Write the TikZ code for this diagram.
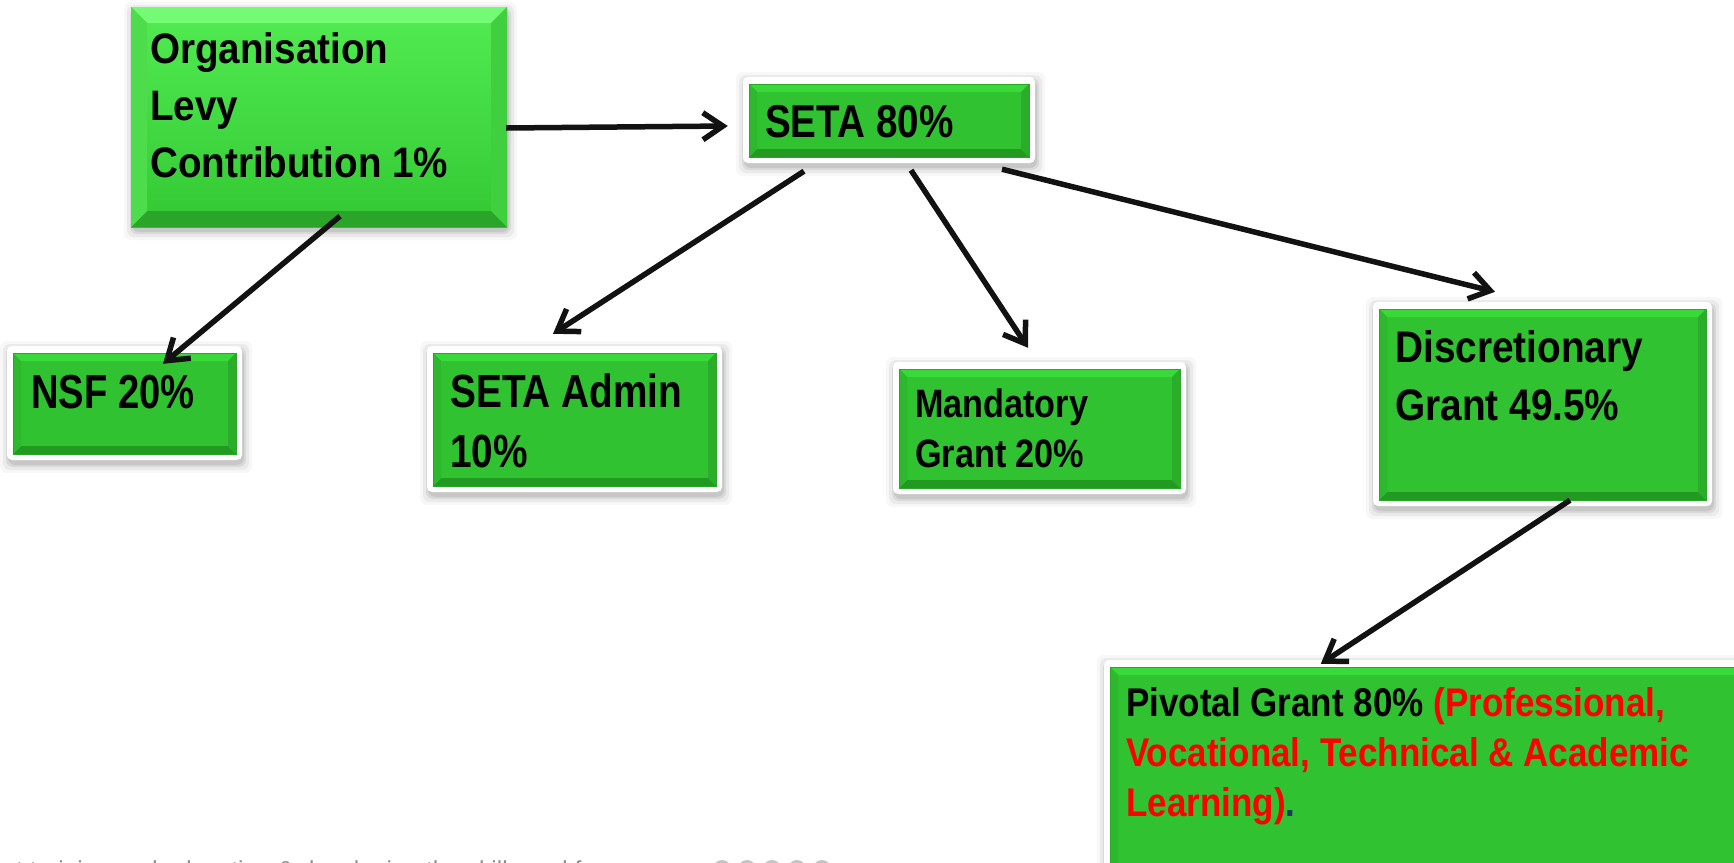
\documentclass[tikz,border=0pt]{standalone}
\usepackage{fontspec}
\setmainfont{Liberation Sans}
\usetikzlibrary{arrows.meta,calc,fit}
\definecolor{gface}{HTML}{30C230}
\definecolor{gtop}{HTML}{3AD93A}
\definecolor{gbot}{HTML}{229A22}
\definecolor{gleft}{HTML}{2DB82D}
\definecolor{gright}{HTML}{2AAE2A}
\definecolor{gedge}{HTML}{27A827}
\definecolor{oface1}{HTML}{52EC52}
\definecolor{oface2}{HTML}{33C833}
\definecolor{otop}{HTML}{74FA74}
\definecolor{oleft}{HTML}{4CDC4C}
\definecolor{oright}{HTML}{3FCF3F}
\definecolor{obot}{HTML}{2AA52A}
\definecolor{dotblue}{HTML}{1F3864}
\definecolor{footgray}{HTML}{8A8A8A}
\definecolor{dotgray}{HTML}{C4C4C4}
\newcommand\softshadow[4]{%
  \foreach \s/\o in {9/0.03,6/0.05,3/0.07,1/0.08}{%
    \fill[black,opacity=\o,rounded corners=7pt] ({#1-\s+2},{#2-\s+4}) rectangle ({#3+\s+1},{#4+\s+4});}}
\newcommand\bevelfill[9]{%
  \fill[#6] ({#1},{#2}) -- ({#3},{#2}) -- ({#3-#5},{#2+#5}) -- ({#1+#5},{#2+#5}) -- cycle;
  \fill[#7] ({#1},{#4}) -- ({#3},{#4}) -- ({#3-#5},{#4-#5}) -- ({#1+#5},{#4-#5}) -- cycle;
  \fill[#8] ({#1},{#2}) -- ({#1+#5},{#2+#5}) -- ({#1+#5},{#4-#5}) -- ({#1},{#4}) -- cycle;
  \fill[#9] ({#3},{#2}) -- ({#3-#5},{#2+#5}) -- ({#3-#5},{#4-#5}) -- ({#3},{#4}) -- cycle;}
\newcommand\greenbox[5]{%
  \softshadow{#2}{#3}{#4}{#5}
  \node[whiteframe, fit={(#2,#3) (#4,#5)}] (#1) {};
  \fill[gface] ({#2+6},{#3+7}) rectangle ({#4-6},{#5-6});
  \bevelfill{#2+6}{#3+7}{#4-6}{#5-6}{8}{gtop}{gbot}{gleft}{gright}
  \draw[gedge, line width=1pt] ({#2+6},{#3+7}) rectangle ({#4-6},{#5-6});}
\tikzset{
  whiteframe/.style={fill=white, rounded corners=5pt, inner sep=0pt},
  txt/.style n args={3}{anchor=base west, inner sep=0pt,
    font=\bfseries\fontsize{#1}{#2}\selectfont\addfontfeatures{FakeStretch=#3}},
  arr/.style={draw=black!93, line width=5.5pt, -{Straight Barb[length=20pt,width=27pt]}}
}
\begin{document}
\begin{tikzpicture}[x=1pt,y=-1pt]
\useasboundingbox (0,0) rectangle (1734,862);
\clip (0,0) rectangle (1734,862);
\fill[white] (0,0) rectangle (1734,862);

% Organisation box
\softshadow{131}{7}{507}{227}
\node[fit={(131,7) (507,227)}, inner sep=0pt] (org) {};
\shade[top color=oface1, bottom color=oface2] (131,7) rectangle (507,227);
\bevelfill{131}{7}{507}{227}{16}{otop}{obot}{oleft}{oright}

% framed boxes
\greenbox{seta}{743}{77}{1035}{163}
\greenbox{nsf}{7}{346}{242}{460}
\greenbox{admin}{427}{346}{722}{492}
\greenbox{mand}{893}{362}{1186}{494}
\greenbox{disc}{1373}{302}{1712}{506}
\greenbox{piv}{1104}{660}{1780}{910}

% texts
\node[txt={42.6}{57}{0.906}] (orgtxt) at (150,63)
  {\vtop{\hbox{Organisation}\hbox{Levy}\hbox{Contribution 1\%}}};
\node[txt={46}{55}{0.84}] (setatxt) at (765,137) {SETA 80\%};
\node[txt={47.7}{57}{0.80}] (nsftxt) at (31,408) {NSF 20\%};
\node[txt={46.5}{60}{0.835}] (admintxt) at (450,407)
  {\vtop{\hbox{SETA Admin}\hbox{10\%}}};
\node[txt={39.6}{50}{0.864}] (mandtxt) at (915,417)
  {\vtop{\hbox{Mandatory}\hbox{Grant 20\%}}};
\node[txt={44.2}{58}{0.878}] (disctxt) at (1395,362)
  {\vtop{\hbox{Discretionary}\hbox{Grant 49.5\%}}};
\node[txt={40}{50}{0.875}] (pivtxt) at (1126,716)
  {\vtop{\hbox{Pivotal Grant 80\% \textcolor{red}{(Professional,}}%
         \hbox{\textcolor{red}{Vocational, Technical \& Academic}}%
         \hbox{\textcolor{red}{Learning)}\textcolor{dotblue}{.}}}};

% clipped footer line
\node[anchor=base west, inner sep=0pt, font=\fontsize{24.5}{28}\selectfont, text=footgray] (foot)
  at (16,878) {t training and education \& developing the skills and for};
\foreach \cx in {722,747,772,797,822} \fill[dotgray] (\cx,869) circle[radius=9pt];

% connectors
\draw[arr] ($(org.east)+(-1,11)$) -- ($(seta.west)+(-15,6)$);
\draw[arr] ($(org.south)+(21,-11)$) -- ($(nsf.north)+(38.5,18)$);
\draw[arr] ($(seta.south)+(-85,8)$) -- ($(admin.north)+(-21.5,-12)$);
\draw[arr] ($(seta.south)+(22,7)$) -- ($(mand.north)+(-11.5,-14)$);
\draw[arr] ($(seta.south)+(113,6)$) -- ($(disc.north)+(-47.5,-10)$);
\draw[arr] ($(disc.south)+(27.5,-6)$) -- ($(piv.north west)+(217,4)$);
\end{tikzpicture}
\end{document}
